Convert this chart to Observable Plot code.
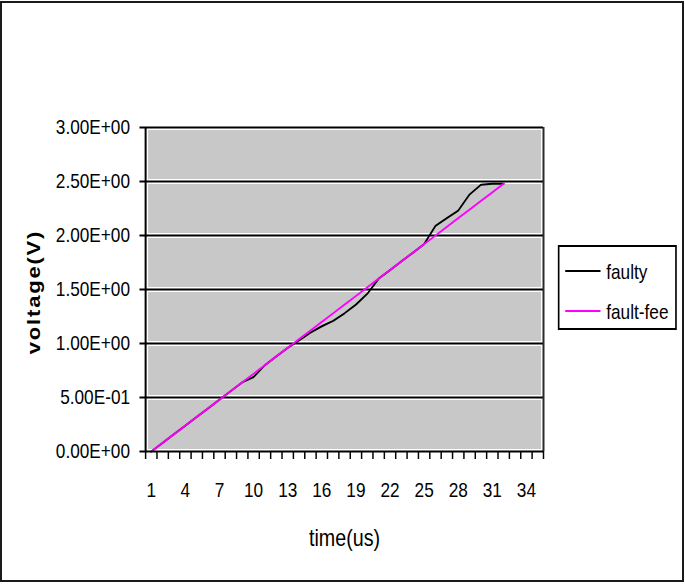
<!DOCTYPE html>
<html>
<head>
<meta charset="utf-8">
<script src="https://cdn.jsdelivr.net/npm/d3@7"></script>
<script src="https://cdn.jsdelivr.net/npm/@observablehq/plot@0.6"></script>
<style>
  html, body { margin: 0; padding: 0; background: #fff; overflow: hidden; width: 685px; height: 584px; }
  #frame { position: absolute; left: 0; top: 1px; width: 684px; height: 581px; box-sizing: border-box;
           border: 2px solid #1a1a1a; pointer-events: none; z-index: 5; }
  #stage { position: absolute; left: 0; top: 0; width: 835px; height: 584px;
           transform: scaleX(0.82036); transform-origin: 0 0;
           font-family: "Liberation Sans", Arial, sans-serif; color: #000; }
  #chart { position: absolute; left: 0; top: 0; }
  #ylabel { position: absolute; left: 42px; top: 292px; transform: translate(-50%, -50%) rotate(-90deg);
            white-space: nowrap; font-weight: bold; font-size: 22px; letter-spacing: 1.8px; line-height: 1; }
  #xlabel { position: absolute; left: 420px; top: 538px; transform: translate(-50%, -50%);
            white-space: nowrap; font-size: 24px; line-height: 1; }
  #legend { position: absolute; left: 680px; top: 245px; width: 145px; height: 85px; box-sizing: border-box;
            border: 2px solid #000; background: #fff; }
  .item { position: absolute; left: 0; height: 24px; display: flex; align-items: center; font-size: 21px; white-space: nowrap; }
  .swatch { position: absolute; left: 7px; width: 43px; height: 0; border-top: 2px solid; }
  .item span.t { position: absolute; left: 57px; line-height: 1; }
</style>
</head>
<body>
<div id="frame"></div>
<div id="stage">
  <div id="chart"></div>
  <div id="ylabel">voltage(V)</div>
  <div id="xlabel">time(us)</div>
  <div id="legend"></div>
</div>
<script>
// ---- data ----
const categories = [1,2,3,4,5,6,7,8,9,10,11,12,13,14,15,16,17,18,19,20,21,22,23,24,25,26,27,28,29,30,31,32];
const faulty    = [0.00,0.08,0.16,0.24,0.32,0.40,0.48,0.56,0.64,0.69,0.80,0.88,0.96,1.03,1.10,1.16,1.21,1.28,1.36,1.46,1.60,1.68,1.76,1.84,1.92,2.09,2.16,2.23,2.38,2.47,2.48,2.48];
const faultFree = [0.00,0.08,0.16,0.24,0.32,0.40,0.48,0.56,0.64,0.72,0.80,0.88,0.96,1.04,1.12,1.20,1.28,1.36,1.44,1.52,1.60,1.68,1.76,1.84,1.92,2.00,2.08,2.16,2.24,2.32,2.40,2.48];
const seriesNames = ["faulty", "fault-fee"];
const seriesColors = ["#000000", "#ff00ff"];
const xTickLabels = [1,4,7,10,13,16,19,22,25,28,31,34];
const xCategoryCount = 35;
const yTicks = [0, 0.5, 1, 1.5, 2, 2.5, 3];
const yTickLabels = ["0.00E+00","5.00E-01","1.00E+00","1.50E+00","2.00E+00","2.50E+00","3.00E+00"];

// ---- layout (unscaled coordinates; stage is compressed horizontally) ----
const C = 0.82036;
const W = 835, H = 584;
const rows = [];
categories.forEach((t, i) => {
  rows.push({t, v: faulty[i], s: seriesNames[0]});
});
categories.forEach((t, i) => {
  rows.push({t, v: faultFree[i], s: seriesNames[1]});
});
const xBounds = d3.range(0.5, xCategoryCount + 1, 1);
const xEdges = [0.5, xCategoryCount + 0.5];

const chart = Plot.plot({
  width: W,
  height: H,
  marginLeft: 177,
  marginRight: 173,
  marginTop: 127,
  marginBottom: 133,
  style: {fontFamily: '"Liberation Sans", Arial, sans-serif', fontSize: "21px", color: "#000", background: "transparent", overflow: "visible"},
  x: {domain: [0.5, xCategoryCount + 0.5]},
  y: {domain: [0, 3]},
  color: {domain: seriesNames, range: seriesColors},
  marks: [
    Plot.frame({fill: "#c8c8c8", stroke: null}),
    Plot.ruleY(yTicks, {stroke: "#ffffff", strokeWidth: 5}),
    Plot.ruleX(xEdges, {stroke: "#ffffff", strokeWidth: 5 / C}),
    Plot.ruleY(yTicks.slice(1), {stroke: "#000", strokeWidth: 2}),
    Plot.ruleX([xEdges[1]], {stroke: "#2a2a2a", strokeWidth: 2 / C}),
    Plot.line(rows.filter(d => d.s === seriesNames[0]), {x: "t", y: "v", stroke: "s", strokeWidth: 2}),
    Plot.line(rows.filter(d => d.s === seriesNames[1]), {x: "t", y: "v", stroke: "s", strokeWidth: 2}),
    Plot.ruleY([0], {stroke: "#000", strokeWidth: 2}),
    Plot.ruleX([xEdges[0]], {stroke: "#000", strokeWidth: 2 / C}),
    Plot.axisX({ticks: xBounds, tickSize: 8, tickFormat: () => "", strokeWidth: 1.8, label: null}),
    Plot.axisX({ticks: xTickLabels, tickSize: 0, tickPadding: 31, label: null, fill: "#000"}),
    Plot.axisY({ticks: yTicks, tickSize: 7, tickPadding: 12, strokeWidth: 2, label: null, fill: "#000",
                tickFormat: d => yTickLabels[yTicks.indexOf(d)]})
  ]
});
document.getElementById("chart").appendChild(chart);

// legend
const legend = document.getElementById("legend");
const itemTops = [12, 52];
seriesNames.forEach((name, i) => {
  const item = document.createElement("div");
  item.className = "item";
  item.style.top = itemTops[i] + "px";
  const sw = document.createElement("div");
  sw.className = "swatch";
  sw.style.borderTopColor = seriesColors[i];
  const tx = document.createElement("span");
  tx.className = "t";
  tx.textContent = name;
  item.appendChild(sw);
  item.appendChild(tx);
  legend.appendChild(item);
});
</script>
</body>
</html>
